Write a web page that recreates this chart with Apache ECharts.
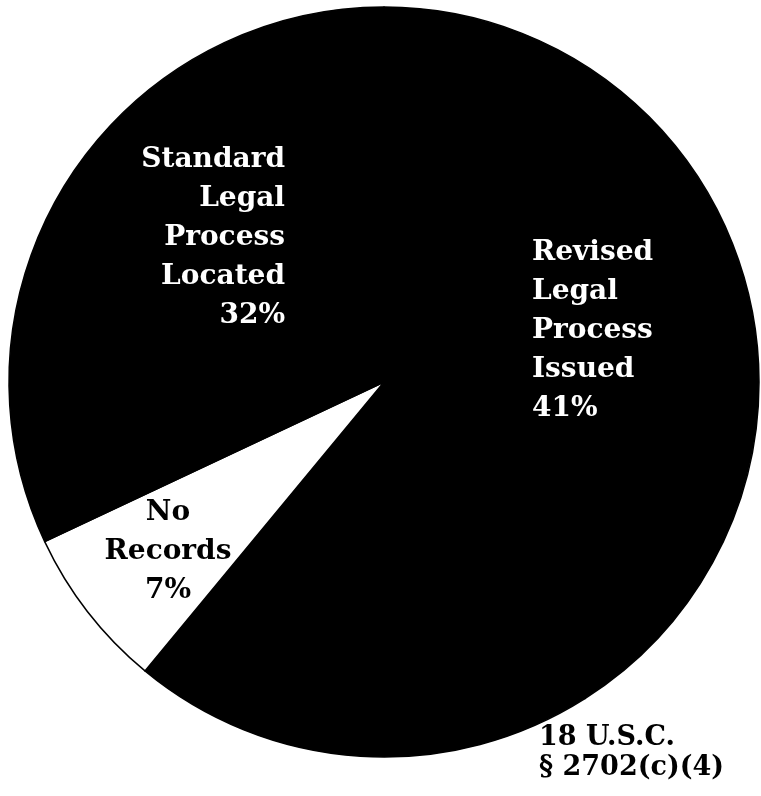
<!DOCTYPE html>
<html>
<head>
<meta charset="utf-8">
<style>
  html, body { margin: 0; padding: 0; background: #ffffff; }
  #chart { width: 761px; height: 796px; }
</style>
<script src="https://cdn.jsdelivr.net/npm/echarts@6/dist/echarts.min.js"></script>
</head>
<body>
<div id="chart"></div>
<script>
// Slices in clockwise order starting from 12 o'clock
const categories = [
  'Revised\nLegal\nProcess\nIssued',
  '18 U.S.C.\n§ 2702(c)(4)',
  'No\nRecords',
  'Standard\nLegal\nProcess\nLocated'
];
const values = [41, 20, 7, 32];
const showPercent = [true, false, true, true];

// Presentation (kept apart from the data)
const sliceColors = ['#000000', '#000000', '#ffffff', '#000000'];
const labelColors = ['#ffffff', '#000000', '#000000', '#ffffff'];
const labelPlacement = [
  { x: 532, y: 331, align: 'left' },
  { x: 539, y: 753, align: 'left' },
  { x: 168, y: 552, align: 'center' },
  { x: 285, y: 238, align: 'right' }
];
const labelLineHeights = [39, 30, 39, 39];
const labelSizes = [28, 27, 28, 28];

const chart = echarts.init(document.getElementById('chart'), null, { renderer: 'canvas' });

const data = categories.map((name, i) => ({
  name: name,
  value: values[i],
  itemStyle: { color: sliceColors[i] },
  label: {
    color: labelColors[i],
    align: labelPlacement[i].align,
    lineHeight: labelLineHeights[i],
    fontSize: labelSizes[i],
    formatter: showPercent[i] ? '{b}\n{c}%' : '{b}'
  }
}));

chart.setOption({
  animation: false,
  backgroundColor: '#ffffff',
  series: [{
    type: 'pie',
    center: [384, 382],
    radius: 375,
    startAngle: 90,
    clockwise: true,
    silent: true,
    avoidLabelOverlap: false,
    itemStyle: { borderColor: '#000000', borderWidth: 1.5 },
    label: {
      show: true,
      position: 'inside',
      fontFamily: 'DejaVu Serif',
      fontWeight: 'bold',
      fontSize: 28,
      verticalAlign: 'middle'
    },
    labelLine: { show: false },
    labelLayout: function (params) {
      const p = labelPlacement[params.dataIndex];
      return { x: p.x, y: p.y, align: p.align, verticalAlign: 'middle' };
    },
    data: data
  }]
});
</script>
</body>
</html>
